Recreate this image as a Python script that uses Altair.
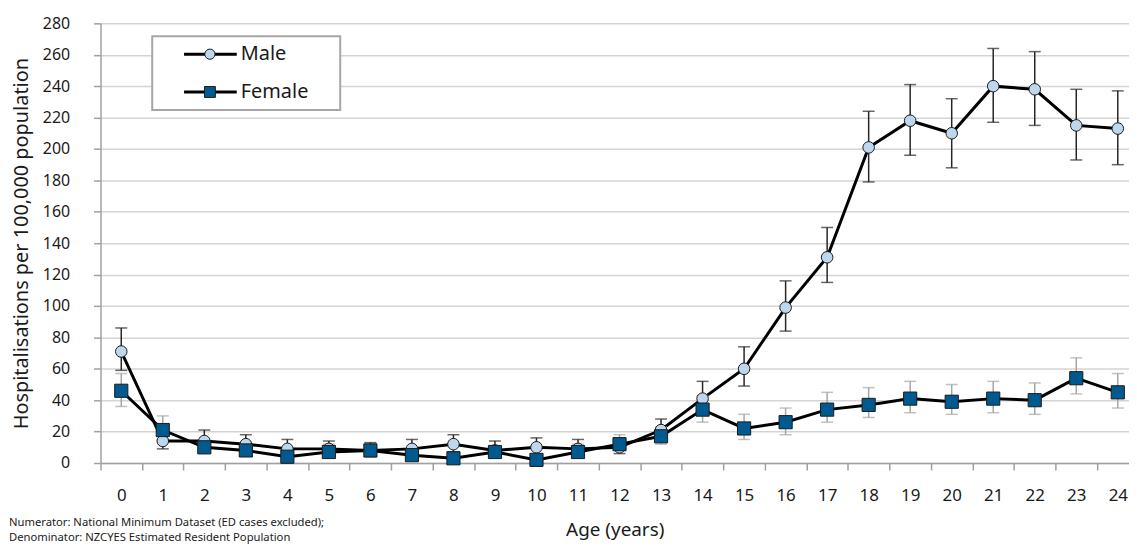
import altair as alt
import pandas as pd

ages = list(range(25))
male = [71, 14, 14, 12, 9, 9, 8, 9, 12, 8, 10, 9, 10, 21, 41, 60, 99, 131, 201, 218, 210, 240, 238, 215, 213]
male_lo = [59, 9, 9, 7, 5, 5, 4, 5, 7, 4, 5, 5, 6, 15, 31, 49, 84, 115, 179, 196, 188, 217, 215, 193, 190]
male_hi = [86, 20, 21, 18, 15, 14, 13, 15, 18, 14, 16, 15, 15, 28, 52, 74, 116, 150, 224, 241, 232, 264, 262, 238, 237]
female = [46, 21, 10, 8, 4, 7, 8, 5, 3, 7, 2, 7, 12, 17, 34, 22, 26, 34, 37, 41, 39, 41, 40, 54, 45]
female_lo = [36, 15, 6, 5, 2, 4, 5, 3, 1, 4, 1, 4, 8, 12, 26, 15, 18, 26, 29, 32, 31, 32, 31, 44, 35]
female_hi = [57, 30, 15, 13, 8, 12, 12, 9, 7, 11, 5, 12, 18, 23, 43, 31, 35, 45, 48, 52, 50, 52, 51, 67, 57]

y_ticks = list(range(0, 281, 20))
x_bounds = [a - 0.5 for a in ages]
legend_labels = ["Male", "Female"]
footnotes = ["Numerator: National Minimum Dataset (ED cases excluded);",
             "Denominator: NZCYES Estimated Resident Population"]

FONT = "Noto Sans"
W, H = 1034, 442
X_MAX = 24.27
band_px = W / (X_MAX + 0.5)

dm = pd.DataFrame({"age": ages, "value": male, "lo": male_lo, "hi": male_hi})
dfm = pd.DataFrame({"age": ages, "value": female, "lo": female_lo, "hi": female_hi})

xs = alt.Scale(domain=[-0.5, X_MAX], nice=False, zero=False)
ys = alt.Scale(domain=[0, 280], nice=False)

x_axis = alt.Axis(values=x_bounds, labelExpr="format(datum.value + 0.5, 'd')",
                  labelOffset=band_px / 2, labelFlush=False, labelOverlap=False,
                  grid=False, tickSize=7, labelPadding=18, labelFontSize=17,
                  title="Age (years)", titlePadding=17, titleFontSize=19)
y_axis = alt.Axis(values=y_ticks, tickSize=7, labelPadding=24, labelFontSize=16,
                  title="Hospitalisations per 100,000 population", titlePadding=11,
                  titleFontSize=20)


def xe(f="age:Q"):
    return alt.X(f, scale=xs, axis=x_axis)


def ye(f):
    return alt.Y(f, scale=ys, axis=y_axis)


def errbars(d, color):
    base = alt.Chart(d)
    rule = base.mark_rule(color=color, strokeWidth=1.5).encode(
        x=xe(), y=ye("lo:Q"), y2="hi:Q")
    lo = base.mark_tick(color=color, orient="horizontal", size=12, thickness=1.5).encode(
        x=xe(), y=ye("lo:Q"))
    hi = base.mark_tick(color=color, orient="horizontal", size=12, thickness=1.5).encode(
        x=xe(), y=ye("hi:Q"))
    return [rule, lo, hi]


male_line = alt.Chart(dm).mark_line(color="black", strokeWidth=3).encode(x=xe(), y=ye("value:Q"))
male_pts = alt.Chart(dm).mark_point(shape="circle", filled=True, fill="#BDD7EE", stroke="#1a1a1a",
                                    strokeWidth=1, size=135, opacity=1).encode(x=xe(), y=ye("value:Q"))
fem_line = alt.Chart(dfm).mark_line(color="black", strokeWidth=3).encode(x=xe(), y=ye("value:Q"))
fem_pts = alt.Chart(dfm).mark_point(shape="square", filled=True, fill="#005A8F", stroke="#1a1a1a",
                                    strokeWidth=1, size=175, opacity=1).encode(x=xe(), y=ye("value:Q"))

one = pd.DataFrame({"k": [0]})
leg_box = alt.Chart(one).mark_rect(fill="white", stroke="#a6a6a6", strokeWidth=2).encode(
    x=alt.value(52), x2=alt.value(241), y=alt.value(13), y2=alt.value(87))
leg_m_line = alt.Chart(one).mark_rule(color="black", strokeWidth=3).encode(
    x=alt.value(84), x2=alt.value(137), y=alt.value(31))
leg_f_line = alt.Chart(one).mark_rule(color="black", strokeWidth=3).encode(
    x=alt.value(84), x2=alt.value(137), y=alt.value(69))
leg_m_pt = alt.Chart(one).mark_point(shape="circle", filled=True, fill="#BDD7EE", stroke="#1a1a1a",
                                     strokeWidth=1, size=105, opacity=1).encode(
    x=alt.value(110), y=alt.value(31))
leg_f_pt = alt.Chart(one).mark_point(shape="square", filled=True, fill="#005A8F", stroke="#1a1a1a",
                                     strokeWidth=1, size=120, opacity=1).encode(
    x=alt.value(110), y=alt.value(69))
leg_txt = alt.Chart(pd.DataFrame({"t": legend_labels, "yy": [31, 69]})).mark_text(
    align="left", baseline="middle", fontSize=20, font=FONT, color="#1a1a1a").encode(
    x=alt.value(141), y=alt.Y("yy:Q", scale=None, axis=None), text="t:N")

foot = alt.Chart(pd.DataFrame({"t": footnotes, "yy": [502, 517]})).mark_text(
    align="left", baseline="middle", fontSize=11.3, font=FONT, color="#1a1a1a").encode(
    x=alt.value(-92), y=alt.Y("yy:Q", scale=None, axis=None), text="t:N")

layers = ([male_line] + errbars(dfm, "#a6a6a6") + errbars(dm, "#262626") +
          [male_pts, fem_line, fem_pts, leg_box, leg_m_line, leg_f_line, leg_m_pt, leg_f_pt, leg_txt, foot])

chart = alt.layer(*layers).properties(
    width=W, height=H,
    background="white",
    autosize=alt.AutoSizeParams(type="none"),
    padding={"left": 93, "top": 14, "right": 0, "bottom": 80},
).configure_view(stroke=None).configure_axis(
    labelFont=FONT, titleFont=FONT,
    labelColor="#1a1a1a", titleColor="#1a1a1a", titleFontWeight="normal",
    domainColor="#a0a0a0", domainWidth=1.5, tickColor="#a0a0a0", tickWidth=1.5,
    gridColor="#d4d4d4", gridWidth=1.5,
)

chart.save("out.html", embed_options={"renderer": "svg", "actions": False})
